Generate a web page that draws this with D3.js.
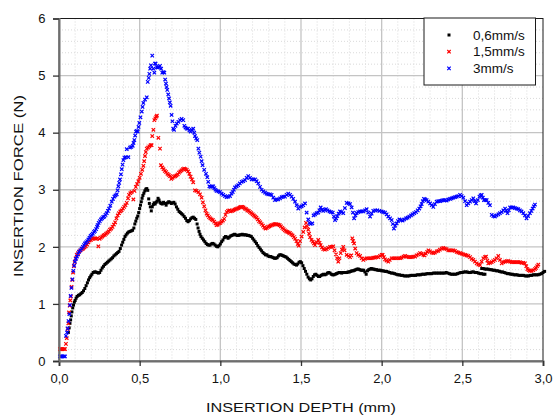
<!DOCTYPE html>
<html>
<head>
<meta charset="utf-8">
<script src="https://cdn.jsdelivr.net/npm/d3@7"></script>
<style>
  html, body { margin: 0; padding: 0; background: #fff; }
  svg { display: block; font-family: "Liberation Sans", Arial, sans-serif; }
</style>
</head>
<body>
<svg id="chart" width="553" height="415"></svg>
<script>
// Insertion force vs. insertion depth at three insertion speeds
const seriesNames = ["0,6mm/s", "1,5mm/s", "3mm/s"];
const seriesColors = ["#000000", "#ff0000", "#0000ff"];

const xTicks = [0, 0.5, 1, 1.5, 2, 2.5, 3];
const xTickLabels = ["0,0", "0,5", "1,0", "1,5", "2,0", "2,5", "3,0"];
const yTicks = [0, 1, 2, 3, 4, 5, 6];
const yTickLabels = ["0", "1", "2", "3", "4", "5", "6"];

// [depth mm, force N]
const speed06 = [
[0.058,0.50],[0.063,0.58],[0.068,0.66],[0.072,0.72],[0.076,0.79],[0.080,0.86],[0.085,0.93],[0.090,0.98],[0.095,1.03],[0.100,1.06],
[0.106,1.10],[0.112,1.13],[0.120,1.15],[0.128,1.16],[0.136,1.18],[0.144,1.20],[0.152,1.23],[0.160,1.27],[0.168,1.32],[0.176,1.37],
[0.183,1.42],[0.190,1.46],[0.197,1.49],[0.204,1.52],[0.212,1.55],[0.220,1.56],[0.228,1.56],[0.236,1.55],[0.244,1.54],[0.252,1.55],
[0.260,1.59],[0.268,1.63],[0.276,1.66],[0.284,1.69],[0.292,1.71],[0.300,1.73],[0.308,1.75],[0.316,1.77],[0.324,1.79],[0.332,1.81],
[0.340,1.84],[0.348,1.86],[0.356,1.88],[0.364,1.90],[0.372,1.92],[0.380,1.97],[0.388,2.03],[0.395,2.08],[0.402,2.13],[0.409,2.18],
[0.416,2.21],[0.424,2.24],[0.432,2.26],[0.440,2.27],[0.448,2.28],[0.456,2.29],[0.464,2.33],[0.470,2.40],[0.476,2.45],[0.482,2.50],
[0.488,2.54],[0.494,2.60],[0.500,2.67],[0.505,2.73],[0.510,2.79],[0.515,2.85],[0.520,2.90],[0.526,2.94],[0.532,2.98],[0.538,3.01],
[0.544,3.02],[0.550,2.99],[0.556,2.84],[0.560,2.76],[0.566,2.70],[0.572,2.63],[0.578,2.70],[0.584,2.74],[0.590,2.77],[0.596,2.75],
[0.602,2.78],[0.608,2.80],[0.614,2.85],[0.620,2.82],[0.626,2.78],[0.632,2.76],[0.640,2.75],[0.648,2.78],[0.656,2.76],[0.664,2.73],
[0.672,2.77],[0.680,2.79],[0.688,2.78],[0.696,2.76],[0.704,2.77],[0.712,2.78],[0.720,2.75],[0.728,2.70],[0.736,2.66],[0.744,2.62],
[0.752,2.60],[0.760,2.58],[0.768,2.56],[0.776,2.53],[0.784,2.50],[0.792,2.46],[0.800,2.44],[0.808,2.46],[0.816,2.49],[0.824,2.51],
[0.832,2.52],[0.840,2.50],[0.848,2.48],[0.856,2.40],[0.862,2.33],[0.868,2.27],[0.874,2.22],[0.880,2.18],[0.888,2.15],[0.896,2.12],
[0.904,2.09],[0.912,2.06],[0.920,2.04],[0.928,2.03],[0.936,2.03],[0.944,2.05],[0.952,2.06],[0.960,2.05],[0.968,2.03],[0.976,2.01],
[0.984,2.00],[0.992,2.02],[1.000,2.05],[1.008,2.09],[1.016,2.12],[1.024,2.16],[1.032,2.18],[1.040,2.17],[1.048,2.15],[1.056,2.17],
[1.064,2.19],[1.072,2.20],[1.080,2.21],[1.088,2.22],[1.096,2.21],[1.104,2.20],[1.112,2.20],[1.120,2.21],[1.128,2.21],[1.136,2.22],
[1.144,2.21],[1.152,2.21],[1.160,2.21],[1.168,2.20],[1.176,2.20],[1.184,2.19],[1.192,2.18],[1.200,2.15],[1.208,2.12],[1.216,2.09],
[1.224,2.06],[1.232,2.02],[1.240,1.99],[1.248,1.96],[1.256,1.93],[1.264,1.90],[1.272,1.88],[1.280,1.86],[1.288,1.86],[1.296,1.84],
[1.304,1.83],[1.312,1.83],[1.320,1.82],[1.328,1.81],[1.336,1.80],[1.344,1.80],[1.352,1.81],[1.360,1.84],[1.368,1.86],[1.376,1.86],
[1.384,1.85],[1.392,1.84],[1.400,1.83],[1.408,1.82],[1.416,1.80],[1.424,1.78],[1.432,1.76],[1.440,1.74],[1.448,1.72],[1.456,1.70],
[1.464,1.69],[1.472,1.68],[1.480,1.70],[1.488,1.73],[1.496,1.74],[1.504,1.72],[1.512,1.67],[1.520,1.62],[1.528,1.57],[1.536,1.52],
[1.544,1.47],[1.552,1.44],[1.560,1.42],[1.568,1.44],[1.576,1.48],[1.584,1.51],[1.592,1.52],[1.600,1.50],[1.608,1.48],[1.616,1.48],
[1.624,1.50],[1.632,1.51],[1.640,1.52],[1.648,1.51],[1.656,1.52],[1.664,1.54],[1.672,1.55],[1.680,1.54],[1.688,1.52],[1.696,1.51],
[1.704,1.51],[1.712,1.52],[1.720,1.53],[1.728,1.54],[1.736,1.55],[1.744,1.55],[1.752,1.54],[1.760,1.55],[1.768,1.55],[1.776,1.55],
[1.784,1.55],[1.792,1.56],[1.800,1.56],[1.808,1.57],[1.816,1.58],[1.824,1.58],[1.832,1.59],[1.840,1.60],[1.848,1.61],[1.856,1.61],
[1.864,1.60],[1.872,1.59],[1.880,1.59],[1.888,1.59],[1.896,1.56],[1.904,1.52],[1.912,1.58],[1.920,1.60],[1.928,1.61],[1.936,1.62],
[1.944,1.61],[1.952,1.61],[1.960,1.60],[1.968,1.60],[1.976,1.59],[1.984,1.59],[1.992,1.59],[2.000,1.58],[2.010,1.58],[2.020,1.57],
[2.030,1.57],[2.040,1.56],[2.050,1.55],[2.060,1.54],[2.070,1.54],[2.080,1.53],[2.090,1.52],[2.100,1.51],[2.110,1.51],[2.120,1.50],
[2.130,1.50],[2.140,1.49],[2.150,1.49],[2.160,1.49],[2.170,1.49],[2.180,1.50],[2.190,1.50],[2.200,1.50],[2.210,1.50],[2.220,1.51],
[2.230,1.51],[2.240,1.51],[2.250,1.52],[2.260,1.52],[2.270,1.52],[2.280,1.53],[2.290,1.53],[2.300,1.53],[2.310,1.53],[2.320,1.54],
[2.330,1.54],[2.340,1.54],[2.350,1.54],[2.360,1.54],[2.370,1.54],[2.380,1.54],[2.390,1.54],[2.400,1.55],[2.410,1.54],[2.420,1.53],
[2.430,1.52],[2.440,1.52],[2.450,1.52],[2.460,1.52],[2.470,1.53],[2.480,1.54],[2.490,1.55],[2.500,1.55],[2.510,1.56],[2.520,1.56],
[2.530,1.56],[2.540,1.55],[2.550,1.55],[2.560,1.56],[2.570,1.56],[2.580,1.55],[2.590,1.55],[2.600,1.54],[2.610,1.53],[2.620,1.53],
[2.630,1.52],[2.640,1.52],
[2.620,1.62],[2.630,1.62],[2.640,1.61],[2.650,1.61],[2.660,1.61],[2.670,1.60],[2.680,1.60],[2.690,1.59],[2.700,1.59],[2.710,1.58],
[2.720,1.58],[2.730,1.57],[2.740,1.56],[2.750,1.56],[2.760,1.55],[2.770,1.54],[2.780,1.53],[2.790,1.53],[2.800,1.52],[2.810,1.52],
[2.820,1.51],[2.830,1.51],[2.840,1.51],[2.850,1.50],[2.860,1.50],[2.870,1.50],[2.880,1.50],[2.890,1.49],[2.900,1.49],[2.910,1.49],
[2.920,1.50],[2.930,1.50],[2.940,1.51],[2.950,1.51],[2.960,1.51],[2.970,1.51],[2.980,1.52],[2.990,1.53],[3.000,1.55],[3.010,1.57]
];

const speed15 = [
[0.006,0.21],[0.014,0.21],[0.022,0.21],[0.030,0.21],[0.037,0.21],[0.043,0.30],[0.048,0.40],[0.054,0.56],[0.058,0.66],[0.062,0.85],
[0.066,0.97],[0.070,1.06],[0.074,1.13],[0.078,1.30],[0.082,1.42],[0.087,1.55],[0.092,1.66],[0.097,1.73],[0.103,1.80],[0.110,1.86],
[0.118,1.89],[0.126,1.92],[0.134,1.94],[0.142,1.96],[0.150,1.97],[0.158,1.99],[0.166,2.01],[0.174,2.04],[0.182,2.08],[0.190,2.11],
[0.198,2.12],[0.206,2.14],[0.214,2.15],[0.222,2.15],[0.230,2.14],[0.238,2.15],[0.244,2.01],[0.252,2.14],[0.260,2.16],[0.268,2.18],
[0.276,2.20],[0.284,2.21],[0.292,2.23],[0.300,2.25],[0.308,2.27],[0.316,2.30],[0.324,2.32],[0.332,2.35],[0.340,2.39],[0.348,2.43],
[0.356,2.50],[0.364,2.55],[0.372,2.59],[0.380,2.62],[0.388,2.64],[0.396,2.67],[0.404,2.70],[0.412,2.73],[0.420,2.77],[0.428,2.85],
[0.434,2.91],[0.442,2.94],[0.450,2.96],[0.461,2.83],[0.468,2.98],[0.476,3.05],[0.484,3.10],[0.492,3.15],[0.500,3.21],[0.508,3.28],
[0.516,3.35],[0.523,3.42],[0.528,3.50],[0.533,3.59],[0.538,3.66],[0.544,3.72],[0.552,3.74],[0.560,3.76],[0.568,3.78],[0.574,3.78],
[0.578,3.94],[0.585,4.05],[0.591,4.22],[0.597,4.25],[0.603,4.28],[0.607,4.30],[0.616,3.91],[0.626,3.72],[0.632,3.43],[0.640,3.39],
[0.648,3.36],[0.656,3.33],[0.664,3.31],[0.672,3.28],[0.680,3.26],[0.688,3.24],[0.696,3.19],[0.704,3.21],[0.712,3.23],[0.720,3.24],
[0.728,3.25],[0.736,3.27],[0.744,3.30],[0.752,3.32],[0.760,3.34],[0.768,3.36],[0.776,3.37],[0.784,3.36],[0.792,3.35],[0.800,3.32],
[0.808,3.28],[0.816,3.23],[0.824,3.18],[0.832,3.13],[0.843,2.99],[0.852,2.98],[0.864,2.96],[0.874,2.92],[0.884,2.86],[0.892,2.78],
[0.900,2.71],[0.908,2.64],[0.915,2.58],[0.922,2.55],[0.930,2.52],[0.938,2.50],[0.946,2.48],[0.954,2.47],[0.962,2.44],[0.970,2.41],
[0.977,2.38],[0.984,2.39],[0.992,2.41],[1.000,2.42],[1.008,2.44],[1.016,2.46],[1.024,2.49],[1.032,2.56],[1.040,2.61],[1.048,2.63],
[1.056,2.64],[1.064,2.62],[1.072,2.63],[1.080,2.64],[1.088,2.65],[1.096,2.66],[1.104,2.67],[1.112,2.68],[1.120,2.69],[1.128,2.70],
[1.136,2.70],[1.144,2.69],[1.152,2.67],[1.160,2.66],[1.168,2.64],[1.176,2.63],[1.184,2.61],[1.192,2.59],[1.200,2.57],[1.208,2.55],
[1.216,2.53],[1.224,2.51],[1.232,2.48],[1.240,2.45],[1.248,2.43],[1.256,2.40],[1.264,2.37],[1.272,2.34],[1.280,2.32],[1.288,2.33],
[1.296,2.35],[1.304,2.36],[1.312,2.37],[1.320,2.38],[1.328,2.39],[1.336,2.40],[1.344,2.40],[1.352,2.39],[1.360,2.39],[1.368,2.38],
[1.376,2.36],[1.384,2.33],[1.392,2.31],[1.400,2.29],[1.408,2.27],[1.416,2.26],[1.424,2.25],[1.432,2.24],[1.440,2.22],[1.448,2.20],
[1.456,2.17],[1.464,2.14],[1.472,2.10],[1.480,2.05],[1.486,2.02],[1.494,2.10],[1.504,2.18],[1.514,2.26],[1.522,2.34],[1.531,2.42],
[1.538,2.36],[1.545,2.30],[1.550,2.23],[1.556,2.17],[1.565,2.12],[1.573,2.09],[1.580,2.06],[1.587,2.03],[1.597,2.08],[1.607,2.12],
[1.615,2.07],[1.622,2.03],[1.630,1.99],[1.638,1.96],[1.648,1.95],[1.659,1.96],[1.668,1.98],[1.680,2.00],[1.690,2.00],[1.700,2.01],
[1.708,1.94],[1.717,1.87],[1.724,1.80],[1.731,1.74],[1.738,1.80],[1.746,1.89],[1.754,1.95],[1.762,2.00],[1.770,1.94],[1.783,1.86],
[1.794,1.84],[1.804,1.82],[1.812,1.85],[1.818,2.15],[1.823,2.10],[1.829,2.06],[1.836,1.97],[1.845,1.89],[1.855,1.86],[1.866,1.84],
[1.876,1.80],[1.886,1.77],[1.896,1.79],[1.907,1.80],[1.917,1.80],[1.928,1.80],[1.938,1.80],[1.948,1.81],[1.958,1.81],[1.968,1.82],
[1.979,1.82],[1.990,1.84],[2.000,1.86],[2.006,1.86],[2.014,1.82],[2.021,1.78],[2.030,1.76],[2.041,1.74],[2.050,1.77],[2.062,1.80],
[2.072,1.80],[2.082,1.80],[2.093,1.80],[2.104,1.80],[2.114,1.80],[2.124,1.81],[2.135,1.83],[2.145,1.84],[2.155,1.83],[2.166,1.82],
[2.176,1.82],[2.186,1.82],[2.196,1.83],[2.207,1.83],[2.217,1.85],[2.228,1.87],[2.238,1.89],[2.248,1.88],[2.258,1.86],[2.266,1.85],
[2.274,1.88],[2.282,1.91],[2.290,1.94],[2.300,1.92],[2.310,1.90],[2.320,1.89],[2.330,1.90],[2.341,1.92],[2.351,1.93],[2.361,1.95],
[2.372,1.97],[2.382,1.98],[2.392,1.97],[2.402,1.96],[2.413,1.94],[2.423,1.94],[2.434,1.94],[2.444,1.94],[2.454,1.93],[2.465,1.91],
[2.475,1.90],[2.486,1.89],[2.496,1.88],[2.506,1.87],[2.517,1.86],[2.527,1.85],[2.537,1.84],[2.548,1.82],[2.558,1.79],[2.568,1.77],
[2.578,1.74],[2.589,1.71],[2.599,1.69],[2.610,1.68],[2.620,1.74],[2.630,1.80],[2.640,1.82],[2.647,1.83],[2.655,1.76],[2.661,1.71],
[2.672,1.72],[2.682,1.73],[2.692,1.75],[2.702,1.77],[2.712,1.80],[2.723,1.84],[2.733,1.77],[2.744,1.71],[2.754,1.73],[2.765,1.74],
[2.775,1.75],[2.785,1.75],[2.796,1.74],[2.806,1.73],[2.816,1.73],[2.826,1.73],[2.837,1.73],[2.847,1.73],[2.857,1.73],[2.867,1.72],
[2.878,1.72],[2.888,1.71],[2.896,1.66],[2.903,1.61],[2.911,1.59],[2.919,1.58],[2.929,1.58],[2.940,1.59],[2.950,1.61],[2.957,1.63],
[2.964,1.66],[2.971,1.69]
];

const speed3 = [
[0.006,0.08],[0.014,0.08],[0.022,0.08],[0.030,0.08],[0.037,0.08],[0.043,0.44],[0.050,0.50],[0.054,0.57],[0.059,0.70],[0.064,0.82],
[0.068,0.98],[0.072,1.14],[0.077,1.28],[0.083,1.43],[0.089,1.58],[0.094,1.67],[0.099,1.74],[0.105,1.79],[0.111,1.83],[0.118,1.87],
[0.124,1.91],[0.132,1.94],[0.140,1.97],[0.148,2.00],[0.155,2.03],[0.161,2.06],[0.168,2.08],[0.175,2.10],[0.182,2.13],[0.189,2.16],
[0.196,2.19],[0.203,2.21],[0.210,2.23],[0.217,2.26],[0.223,2.28],[0.230,2.31],[0.236,2.35],[0.240,2.38],[0.246,2.42],[0.253,2.45],
[0.260,2.48],[0.267,2.50],[0.274,2.52],[0.281,2.53],[0.288,2.56],[0.296,2.59],[0.303,2.63],[0.310,2.67],[0.318,2.72],[0.327,2.79],
[0.335,2.84],[0.343,2.88],[0.350,2.90],[0.358,2.92],[0.363,2.99],[0.368,3.06],[0.373,3.12],[0.378,3.18],[0.384,3.27],[0.389,3.36],
[0.394,3.44],[0.399,3.52],[0.406,3.56],[0.413,3.57],[0.420,3.71],[0.430,3.57],[0.440,3.74],[0.448,3.75],[0.457,3.77],[0.462,3.82],
[0.467,3.87],[0.472,3.95],[0.477,4.02],[0.483,4.03],[0.488,4.02],[0.493,4.10],[0.498,4.17],[0.505,4.27],[0.513,4.37],[0.518,4.45],
[0.523,4.52],[0.533,4.58],[0.544,4.62],[0.550,4.89],[0.556,4.96],[0.560,5.03],[0.565,5.12],[0.570,5.18],[0.578,5.35],[0.585,5.12],
[0.591,5.05],[0.595,5.21],[0.599,5.21],[0.606,5.15],[0.612,5.14],[0.619,5.15],[0.626,5.17],[0.633,5.12],[0.640,5.05],[0.647,5.06],
[0.653,5.05],[0.658,4.93],[0.663,4.86],[0.667,4.80],[0.671,4.75],[0.677,4.67],[0.682,4.60],[0.687,4.53],[0.692,4.47],[0.698,4.31],
[0.703,4.20],[0.708,4.07],[0.713,4.05],[0.722,4.12],[0.730,4.16],[0.740,4.19],[0.750,4.22],[0.760,4.24],[0.770,4.22],[0.777,4.12],
[0.784,4.09],[0.792,4.07],[0.800,4.07],[0.808,4.04],[0.816,4.02],[0.824,4.05],[0.832,4.07],[0.838,4.00],[0.843,3.94],[0.850,3.90],
[0.857,3.87],[0.864,3.72],[0.870,3.65],[0.878,3.58],[0.884,3.50],[0.890,3.43],[0.900,3.35],[0.911,3.28],[0.919,3.22],[0.925,3.14],
[0.932,3.06],[0.940,3.05],[0.948,3.06],[0.956,3.06],[0.963,3.03],[0.970,3.00],[0.977,2.98],[0.988,2.97],[0.998,2.96],[1.008,2.93],
[1.018,2.91],[1.029,2.89],[1.039,2.87],[1.049,2.88],[1.060,2.89],[1.069,2.93],[1.077,2.96],[1.084,3.00],[1.091,3.04],[1.101,3.06],
[1.111,3.08],[1.121,3.11],[1.132,3.14],[1.142,3.15],[1.153,3.17],[1.163,3.21],[1.173,3.24],[1.184,3.21],[1.194,3.18],[1.205,3.18],
[1.215,3.18],[1.225,3.15],[1.235,3.11],[1.246,3.05],[1.256,3.00],[1.266,2.97],[1.277,2.95],[1.287,2.93],[1.297,2.92],[1.308,2.92],
[1.318,2.91],[1.328,2.86],[1.339,2.82],[1.349,2.83],[1.359,2.83],[1.370,2.85],[1.380,2.87],[1.390,2.88],[1.401,2.88],[1.411,2.91],
[1.421,2.93],[1.432,2.91],[1.442,2.88],[1.452,2.84],[1.463,2.79],[1.473,2.73],[1.483,2.67],[1.494,2.70],[1.504,2.71],[1.514,2.73],
[1.525,2.76],[1.535,2.60],[1.545,2.48],[1.552,2.42],[1.560,2.40],[1.570,2.41],[1.578,2.55],[1.587,2.57],[1.597,2.59],[1.607,2.60],
[1.614,2.64],[1.622,2.69],[1.630,2.65],[1.638,2.63],[1.646,2.65],[1.655,2.66],[1.665,2.64],[1.676,2.62],[1.686,2.61],[1.697,2.60],
[1.704,2.53],[1.711,2.47],[1.718,2.50],[1.725,2.54],[1.733,2.58],[1.742,2.62],[1.752,2.61],[1.762,2.59],[1.772,2.68],[1.783,2.77],
[1.794,2.76],[1.804,2.75],[1.814,2.69],[1.822,2.60],[1.829,2.50],[1.837,2.55],[1.845,2.59],[1.855,2.61],[1.866,2.62],[1.876,2.62],
[1.886,2.62],[1.897,2.64],[1.907,2.66],[1.917,2.60],[1.928,2.53],[1.938,2.58],[1.948,2.63],[1.960,2.64],[1.973,2.64],[1.986,2.63],
[2.000,2.62],[2.010,2.61],[2.021,2.60],[2.031,2.57],[2.041,2.53],[2.052,2.50],[2.062,2.47],[2.069,2.40],[2.076,2.32],[2.084,2.37],
[2.093,2.41],[2.101,2.45],[2.110,2.48],[2.120,2.47],[2.130,2.46],[2.140,2.48],[2.151,2.50],[2.161,2.51],[2.171,2.53],[2.182,2.55],
[2.192,2.57],[2.202,2.59],[2.213,2.61],[2.223,2.64],[2.233,2.67],[2.241,2.71],[2.248,2.75],[2.255,2.80],[2.262,2.84],[2.270,2.83],
[2.279,2.82],[2.289,2.79],[2.300,2.76],[2.310,2.73],[2.320,2.70],[2.330,2.75],[2.341,2.79],[2.351,2.80],[2.362,2.80],[2.372,2.81],
[2.382,2.82],[2.392,2.82],[2.403,2.81],[2.413,2.83],[2.424,2.84],[2.434,2.85],[2.444,2.86],[2.455,2.87],[2.465,2.88],[2.475,2.89],
[2.486,2.91],[2.496,2.89],[2.506,2.86],[2.517,2.80],[2.527,2.73],[2.537,2.76],[2.548,2.79],[2.558,2.82],[2.568,2.85],[2.577,2.80],
[2.585,2.76],[2.596,2.82],[2.606,2.88],[2.614,2.90],[2.620,2.91],[2.627,2.86],[2.634,2.82],[2.643,2.82],[2.651,2.82],[2.661,2.77],
[2.671,2.73],[2.682,2.56],[2.692,2.54],[2.702,2.53],[2.712,2.55],[2.723,2.57],[2.733,2.59],[2.744,2.61],[2.754,2.64],[2.765,2.67],
[2.772,2.63],[2.780,2.59],[2.788,2.64],[2.796,2.69],[2.806,2.69],[2.816,2.69],[2.826,2.68],[2.837,2.67],[2.847,2.66],[2.857,2.64],
[2.867,2.62],[2.878,2.59],[2.888,2.55],[2.898,2.50],[2.908,2.54],[2.919,2.59],[2.928,2.63],[2.936,2.67],[2.943,2.71],[2.950,2.74]
];

const allSeries = [speed06, speed15, speed3];

const svg = d3.select("#chart");
const plotL = 59, plotR = 543, plotT = 18.5, plotB = 361;

const x = d3.scaleLinear().domain([0, 3]).range([plotL, plotR]);
const y = d3.scaleLinear().domain([0, 6]).range([plotB, plotT]);

// minor dotted grid (0.1 mm, 0.2 N)
const minorX = d3.range(1, 30).map(i => i / 10).filter((v, i) => (i + 1) % 5 !== 0);
const minorY = d3.range(1, 30).map(i => i / 5).filter((v, i) => (i + 1) % 5 !== 0);
const grid = svg.append("g");
grid.selectAll("line.mx").data(minorX).join("line").attr("class", "mx")
  .attr("x1", d => x(d)).attr("x2", d => x(d)).attr("y1", plotT).attr("y2", plotB)
  .attr("stroke", "#dadada").attr("stroke-width", 1).attr("stroke-dasharray", "1,2");
grid.selectAll("line.my").data(minorY).join("line").attr("class", "my")
  .attr("y1", d => y(d)).attr("y2", d => y(d)).attr("x1", plotL).attr("x2", plotR)
  .attr("stroke", "#dadada").attr("stroke-width", 1).attr("stroke-dasharray", "1,2");

// major grid
svg.append("g").selectAll("line").data(xTicks.slice(1, -1)).join("line")
  .attr("x1", d => x(d)).attr("x2", d => x(d)).attr("y1", plotT).attr("y2", plotB)
  .attr("stroke", "#c4c4c4").attr("stroke-width", 1.3);
svg.append("g").selectAll("line").data(yTicks.slice(1, -1)).join("line")
  .attr("y1", d => y(d)).attr("y2", d => y(d)).attr("x1", plotL).attr("x2", plotR)
  .attr("stroke", "#c4c4c4").attr("stroke-width", 1.3);

// plot frame
svg.append("rect").attr("x", plotL).attr("y", plotT).attr("width", plotR - plotL).attr("height", plotB - plotT)
  .attr("fill", "none").attr("stroke", "#1a1a1a").attr("stroke-width", 1);

// markers
const crossPath = "M-1.7,-1.7L1.7,1.7M-1.7,1.7L1.7,-1.7";
const plot = svg.append("g");
allSeries.forEach((data, i) => {
  const g = plot.append("g");
  if (i === 0) {
    g.selectAll("rect").data(data).join("rect")
      .attr("x", d => x(d[0]) - 1.5).attr("y", d => y(d[1]) - 1.5)
      .attr("width", 3).attr("height", 3).attr("fill", seriesColors[i]);
  } else {
    g.selectAll("path").data(data).join("path")
      .attr("transform", d => `translate(${x(d[0])},${y(d[1])})`)
      .attr("d", crossPath).attr("fill", "none")
      .attr("stroke", seriesColors[i]).attr("stroke-width", 1.2);
  }
});

// axes
const xAxis = d3.axisBottom(x).tickValues(xTicks).tickFormat((d, i) => xTickLabels[i]).tickSize(5).tickPadding(8);
const gx = svg.append("g").attr("transform", `translate(0,${plotB})`).call(xAxis);
const yAxis = d3.axisLeft(y).tickValues(yTicks).tickFormat((d, i) => yTickLabels[i]).tickSize(6).tickPadding(7.5);
const gy = svg.append("g").attr("transform", `translate(${plotL},0)`).call(yAxis);
[gx, gy].forEach(g => {
  g.select(".domain").attr("stroke", "#6e6e6e").attr("stroke-width", 2);
  g.selectAll(".tick line").attr("stroke", "#333").attr("stroke-width", 1.3);
  g.selectAll(".tick text").attr("font-size", 13).attr("fill", "#111")
    .attr("font-family", "Liberation Sans, Arial, sans-serif");
});

// axis titles
svg.append("text").attr("x", (plotL + plotR) / 2).attr("y", 411.5)
  .attr("text-anchor", "middle").attr("font-size", 13.5).attr("fill", "#111")
  .attr("textLength", 190).attr("lengthAdjust", "spacingAndGlyphs")
  .text("INSERTION DEPTH (mm)");
svg.append("text").attr("transform", "translate(22.5,186) rotate(-90)")
  .attr("text-anchor", "middle").attr("font-size", 13.5).attr("fill", "#111")
  .attr("textLength", 182).attr("lengthAdjust", "spacingAndGlyphs")
  .text("INSERTION FORCE (N)");

// legend
const lg = svg.append("g");
lg.append("rect").attr("x", 424).attr("y", 18).attr("width", 111.5).attr("height", 67)
  .attr("fill", "#fff").attr("stroke", "#1a1a1a").attr("stroke-width", 1);
seriesNames.forEach((name, i) => {
  const cy = 35 + i * 16.7;
  if (i === 0) {
    lg.append("rect").attr("x", 449 - 1.5).attr("y", cy - 1.5).attr("width", 3).attr("height", 3).attr("fill", seriesColors[i]);
  } else {
    lg.append("path").attr("transform", `translate(449,${cy})`).attr("d", crossPath)
      .attr("fill", "none").attr("stroke", seriesColors[i]).attr("stroke-width", 1.2);
  }
  lg.append("text").attr("x", 473).attr("y", cy).attr("dy", "0.35em")
    .attr("font-size", 13.5).attr("fill", "#111").text(name);
});
</script>
</body>
</html>
